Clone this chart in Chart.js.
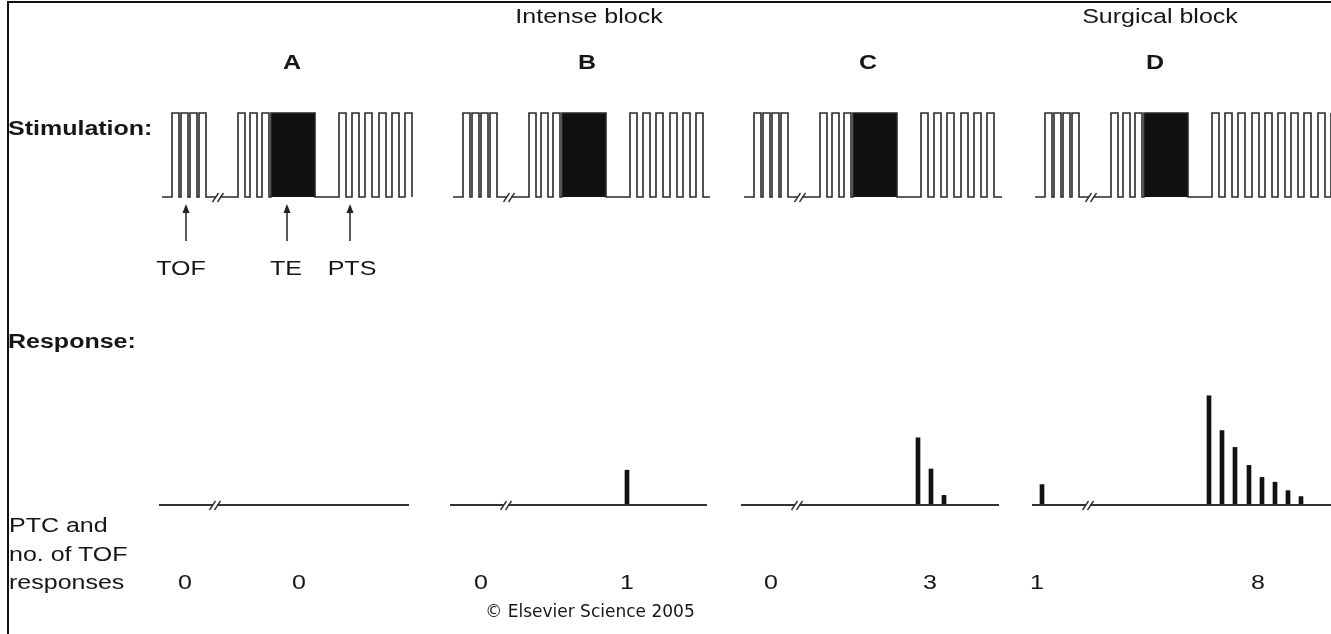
<!DOCTYPE html>
<html>
<head>
<meta charset="utf-8">
<script src="https://cdn.jsdelivr.net/npm/chart.js@4.4.1/dist/chart.umd.min.js"></script>
<style>
html, body { margin: 0; padding: 0; background: #fff; }
#wrap { position: relative; width: 1331px; height: 634px; overflow: hidden; font-family: "Liberation Sans", Arial, sans-serif; color: #161616; }
#frame { position: absolute; left: 7px; top: 1px; right: -5px; bottom: -5px; border-top: 2px solid #111; border-left: 2px solid #111; }
#plot { position: absolute; left: 0; top: 0; }
.t { position: absolute; white-space: nowrap; font-size: 20px; line-height: 1; transform-origin: left top; transform: scaleX(1.25); }
.c { position: absolute; white-space: nowrap; font-size: 20px; line-height: 1; transform: translateX(-50%) scaleX(1.25); }
.b { font-weight: bold; }
#copy { font-family: "DejaVu Sans", Verdana, sans-serif; font-size: 17px; transform: translateX(-50%); }
</style>
</head>
<body>
<div id="wrap">
  <div id="frame"></div>
  <canvas id="plot" width="1331" height="634"></canvas>

  <div class="c" style="left:589px; top:6px;">Intense block</div>
  <div class="c" style="left:1160px; top:6px;">Surgical block</div>
  <div id="letters"></div>

  <div class="t b" style="left:8px; top:118px;">Stimulation:</div>
  <div class="c" style="left:181px; top:258px;">TOF</div>
  <div class="c" style="left:286px; top:258px;">TE</div>
  <div class="c" style="left:352px; top:258px;">PTS</div>

  <div class="t b" style="left:8px; top:331px;">Response:</div>
  <div class="t" style="left:9px; top:515px;">PTC and</div>
  <div class="t" style="left:9px; top:544px;">no. of TOF</div>
  <div class="t" style="left:9px; top:572px;">responses</div>
  <div id="counts"></div>

  <div class="c" id="copy" style="left:590px; top:603px;">© Elsevier Science 2005</div>
</div>

<script>
const panels = ['A', 'B', 'C', 'D'];
const letterX = [292, 587, 868, 1155];

// stimulation pattern, in diagram time units from the start of each panel
const tofPulses = [10, 19, 28, 37];
const prePulses = [76, 88, 100];
const tetanus = [109, 153];
const ptsPulses = [177, 190, 203, 217, 230, 243, 256, 269, 283, 296];
const ptsShown = [6, 6, 6, 10];
const breakAt = 56;
const panelEnd = [250, 257, 258, 330];

// responses (twitch height, % of control)
const tofResponses = [[], [], [], [17]];
const ptcResponses = [[], [29], [56, 30, 8], [91, 62, 48, 33, 23, 19, 12, 7]];

// counts printed under each panel: TOF count, then PTC
const tofCounts = [0, 0, 0, 1];
const ptcCounts = [0, 1, 3, 8];
const tofCountX = [185, 481, 771, 1037];
const ptcCountX = [299, 627, 930, 1258];

const arrowTimes = [24, 125, 188];

const panelGap = 291;
const respShift = -3;
const pulseW = 7;

function origin(i) { return i * panelGap; }

// labels built from the arrays
const letters = document.getElementById('letters');
panels.forEach((p, i) => {
    const d = document.createElement('div');
    d.className = 'c b';
    d.style.left = letterX[i] + 'px';
    d.style.top = '52px';
    d.textContent = p;
    letters.appendChild(d);
});
const counts = document.getElementById('counts');
panels.forEach((p, i) => {
    [[tofCounts[i], tofCountX[i]], [ptcCounts[i], ptcCountX[i]]].forEach(([v, x]) => {
        const d = document.createElement('div');
        d.className = 'c';
        d.style.left = x + 'px';
        d.style.top = '572px';
        d.textContent = v;
        counts.appendChild(d);
    });
});

// stimulation trace
const stimTrace = [];
const tetanusSets = [];
panels.forEach((p, i) => {
    const o = origin(i);
    const pulses = tofPulses.concat(prePulses);
    stimTrace.push({ x: o, y: 0 });
    pulses.forEach(t => {
        stimTrace.push({ x: o + t, y: 0 }, { x: o + t, y: 1 }, { x: o + t + pulseW, y: 1 }, { x: o + t + pulseW, y: 0 });
    });
    stimTrace.push({ x: o + tetanus[0], y: 0 }, { x: o + tetanus[0], y: 1 }, { x: o + tetanus[1], y: 1 }, { x: o + tetanus[1], y: 0 });
    ptsPulses.slice(0, ptsShown[i]).forEach(t => {
        stimTrace.push({ x: o + t, y: 0 }, { x: o + t, y: 1 }, { x: o + t + pulseW, y: 1 }, { x: o + t + pulseW, y: 0 });
    });
    stimTrace.push({ x: o + panelEnd[i], y: 0 }, { x: o + panelEnd[i], y: null });

    tetanusSets.push({
        type: 'line',
        data: [{ x: o + tetanus[0], y: 0 }, { x: o + tetanus[0], y: 1 }, { x: o + tetanus[1], y: 1 }, { x: o + tetanus[1], y: 0 }],
        yAxisID: 'yStim',
        borderWidth: 0,
        pointRadius: 0,
        fill: 'origin',
        backgroundColor: '#111'
    });
});

// response baseline and twitches
const respBase = [];
const respBars = [];
panels.forEach((p, i) => {
    const o = origin(i) + respShift;
    respBase.push({ x: o, y: 0 }, { x: o + panelEnd[i], y: 0 }, { x: o + panelEnd[i], y: null });
    tofResponses[i].forEach((a, k) => respBars.push({ x: o + tofPulses[k], y: a }));
    ptcResponses[i].forEach((a, k) => respBars.push({ x: o + ptsPulses[k], y: a }));
});

const breakMarks = {
    id: 'breakMarks',
    afterDatasetsDraw(chart) {
        const { ctx, scales } = chart;
        panels.forEach((p, i) => {
            [['yStim', 0], ['yResp', respShift]].forEach(([axis, shift]) => {
                const x = scales.x.getPixelForValue(origin(i) + breakAt + shift);
                const y = scales[axis].getPixelForValue(0);
                ctx.save();
                ctx.fillStyle = '#fff';
                ctx.fillRect(x - 2, y - 3, 4, 6);
                ctx.strokeStyle = '#333';
                ctx.lineWidth = 1.4;
                [-2.5, 2.5].forEach(dx => {
                    ctx.beginPath();
                    ctx.moveTo(x + dx - 3, y + 5);
                    ctx.lineTo(x + dx + 3, y - 4);
                    ctx.stroke();
                });
                ctx.restore();
            });
        });
    }
};

const arrows = {
    id: 'arrows',
    afterDatasetsDraw(chart) {
        const { ctx, scales } = chart;
        const y0 = scales.yStim.getPixelForValue(0);
        arrowTimes.forEach(t => {
            const x = scales.x.getPixelForValue(t);
            ctx.save();
            ctx.strokeStyle = '#222';
            ctx.fillStyle = '#222';
            ctx.lineWidth = 1.5;
            ctx.beginPath();
            ctx.moveTo(x, y0 + 44);
            ctx.lineTo(x, y0 + 14);
            ctx.stroke();
            ctx.beginPath();
            ctx.moveTo(x, y0 + 7);
            ctx.lineTo(x - 3.5, y0 + 16);
            ctx.lineTo(x + 3.5, y0 + 16);
            ctx.closePath();
            ctx.fill();
            ctx.restore();
        });
    }
};

const ctx = document.getElementById('plot').getContext('2d');
new Chart(ctx, {
    type: 'line',
    data: {
        datasets: [
            {
                data: stimTrace,
                yAxisID: 'yStim',
                borderColor: '#2a2a2a',
                borderWidth: 1.6,
                pointRadius: 0,
                spanGaps: false,
                fill: false
            },
            ...tetanusSets,
            {
                data: respBase,
                yAxisID: 'yResp',
                borderColor: '#333',
                borderWidth: 2,
                pointRadius: 0,
                spanGaps: false,
                fill: false
            },
            {
                type: 'bar',
                data: respBars,
                yAxisID: 'yResp',
                backgroundColor: '#111',
                barThickness: 4,
                grouped: false
            }
        ]
    },
    options: {
        responsive: false,
        animation: false,
        layout: { padding: 0 },
        plugins: { legend: { display: false }, tooltip: { enabled: false } },
        scales: {
            x: { type: 'linear', min: -162, max: 1169, offset: false, display: false },
            yStim: { type: 'linear', min: -5.202, max: 2.345, display: false },
            yResp: { type: 'linear', min: -107.5, max: 420.8, display: false }
        }
    },
    plugins: [breakMarks, arrows]
});
</script>
</body>
</html>
